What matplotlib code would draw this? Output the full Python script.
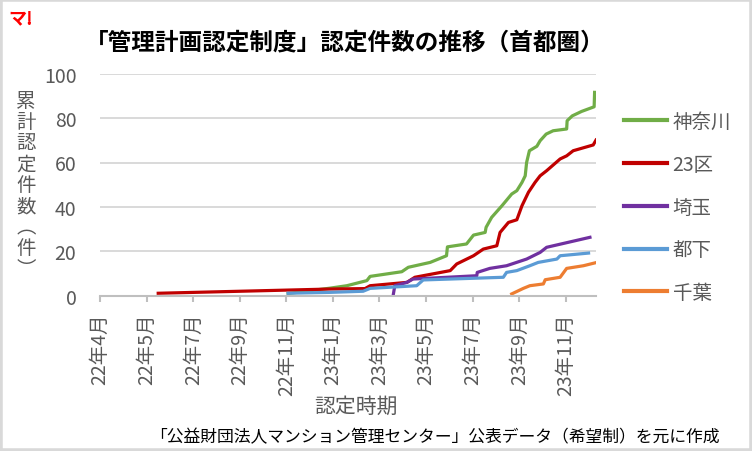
import matplotlib
matplotlib.use("Agg")
import matplotlib.pyplot as plt
from matplotlib.patches import Rectangle

plt.rcParams['font.family'] = ['Noto Sans CJK JP', 'DejaVu Sans']

# x positions are in tick-label units (category axis, one unit per label)
tick_labels = ["22年4月", "22年5月", "22年7月", "22年9月", "22年11月", "23年1月",
               "23年3月", "23年5月", "23年7月", "23年9月", "23年11月"]

kanagawa_x = [4.04, 4.94, 5.30, 5.73, 5.80, 6.48, 6.62, 7.09, 7.44, 7.46, 7.87, 8.02,
              8.27, 8.29, 8.41, 8.63, 8.84, 8.95, 9.06, 9.13, 9.16, 9.22, 9.38, 9.45,
              9.58, 9.73, 10.02, 10.03, 10.14, 10.34, 10.61, 10.62]
kanagawa_y = [1.0, 3.4, 4.5, 6.8, 8.7, 10.8, 12.8, 15.0, 18.0, 22.0, 23.3, 27.3,
              28.5, 30.8, 35.3, 40.5, 45.8, 47.3, 51.0, 54.0, 60.0, 65.3, 67.3, 69.8,
              72.8, 74.3, 75.1, 78.8, 81.0, 83.0, 85.1, 91.6]

ku23_x = [1.25, 4.94, 5.69, 5.80, 6.59, 6.76, 7.52, 7.66, 8.02, 8.23, 8.52, 8.59,
          8.77, 8.95, 9.06, 9.20, 9.34, 9.45, 9.59, 9.88, 10.02, 10.16, 10.59, 10.65]
ku23_y = [1.1, 3.0, 3.2, 4.5, 6.0, 8.3, 11.3, 14.3, 18.0, 21.0, 22.5, 28.5,
          33.0, 34.2, 40.5, 46.6, 51.0, 54.0, 56.3, 61.6, 63.0, 65.3, 67.9, 70.1]

saitama_x = [6.30, 6.33, 6.59, 6.72, 8.09, 8.10, 8.37, 8.73, 9.16, 9.45, 9.59, 10.52]
saitama_y = [0.8, 4.5, 6.0, 7.5, 9.0, 10.5, 12.3, 13.5, 16.5, 19.5, 21.8, 26.3]

toka_x = [4.04, 4.94, 5.65, 5.80, 6.80, 6.94, 8.66, 8.73, 8.95, 9.23, 9.41, 9.81, 9.88, 10.49]
toka_y = [1.1, 1.5, 2.0, 3.3, 4.5, 7.1, 8.3, 10.5, 11.3, 13.5, 15.0, 16.5, 18.0, 19.2]

chiba_x = [8.84, 9.09, 9.23, 9.52, 9.56, 9.88, 10.02, 10.38, 10.67]
chiba_y = [0.8, 3.3, 4.5, 5.3, 7.2, 8.3, 12.3, 13.5, 15.0]

series = [
    ("神奈川", kanagawa_x, kanagawa_y, "#70ad47"),
    ("23区", ku23_x, ku23_y, "#c00000"),
    ("埼玉", saitama_x, saitama_y, "#7030a0"),
    ("都下", toka_x, toka_y, "#5b9bd5"),
    ("千葉", chiba_x, chiba_y, "#ed7d31"),
]

W, H = 752, 452
fig = plt.figure(figsize=(W / 100, H / 100), dpi=100)
ax = fig.add_axes([100 / W, 1 - 296.7 / H, 496 / W, 222 / H])

for name, xs, ys, c in series:
    ax.plot(xs, ys, color=c, lw=2.3, label=name, solid_joinstyle="round")

ax.set_xlim(0, 10.65)
ax.set_ylim(0, 100)
ax.set_yticks(range(0, 101, 20))
ax.set_xticks(range(len(tick_labels)))
ax.set_xticklabels(tick_labels, rotation=90, va="top", ha="center")
ax.grid(axis="y", color="#d9d9d9", lw=1.4)
ax.set_axisbelow(True)
for s in ["top", "right", "left"]:
    ax.spines[s].set_visible(False)
ax.spines["bottom"].set_color("#bfbfbf")
ax.spines["bottom"].set_linewidth(1.5)
ax.tick_params(axis="y", length=0, pad=17, labelsize=14, labelcolor="#595959")
ax.tick_params(axis="x", length=4, width=1.5, color="#bfbfbf", pad=8,
               labelsize=14, labelcolor="#595959")

leg = ax.legend(loc="upper left", bbox_to_anchor=(624 / W, 1 - 112 / H),
                bbox_transform=fig.transFigure, frameon=False, fontsize=14,
                handlelength=2.2, handletextpad=0.3, labelspacing=1.12,
                borderpad=0, borderaxespad=0)
for t in leg.get_texts():
    t.set_color("#595959")
for l in leg.get_lines():
    l.set_linewidth(3)

# titles and notes
fig.text(345 / W, 1 - 42 / H, "「管理計画認定制度」認定件数の推移（首都圏）",
         ha="center", va="center", fontsize=17, fontweight="bold")
fig.text(8 / W, 1 - 19 / H, "マ!", ha="left", va="center", fontsize=13,
         fontweight="bold", color="#ff0000")
fig.text(26 / W, 1 - 186 / H, "累\n計\n認\n定\n件\n数\n︵\n件\n︶", ha="center",
         va="center", fontsize=14, color="#595959", linespacing=1.0)
fig.text(356 / W, 1 - 407 / H, "認定時期", ha="center", va="center",
         fontsize=15, color="#595959")
fig.text(435 / W, 1 - 438 / H,
         "「公益財団法人マンション管理センター」公表データ（希望制）を元に作成",
         ha="center", va="center", fontsize=12.1, color="#000000")

fig.patches.append(Rectangle((0, 0), 1, 1, transform=fig.transFigure, fill=False,
                             edgecolor="#d9d9d9", lw=4))

fig.savefig("out.png", dpi=100)
